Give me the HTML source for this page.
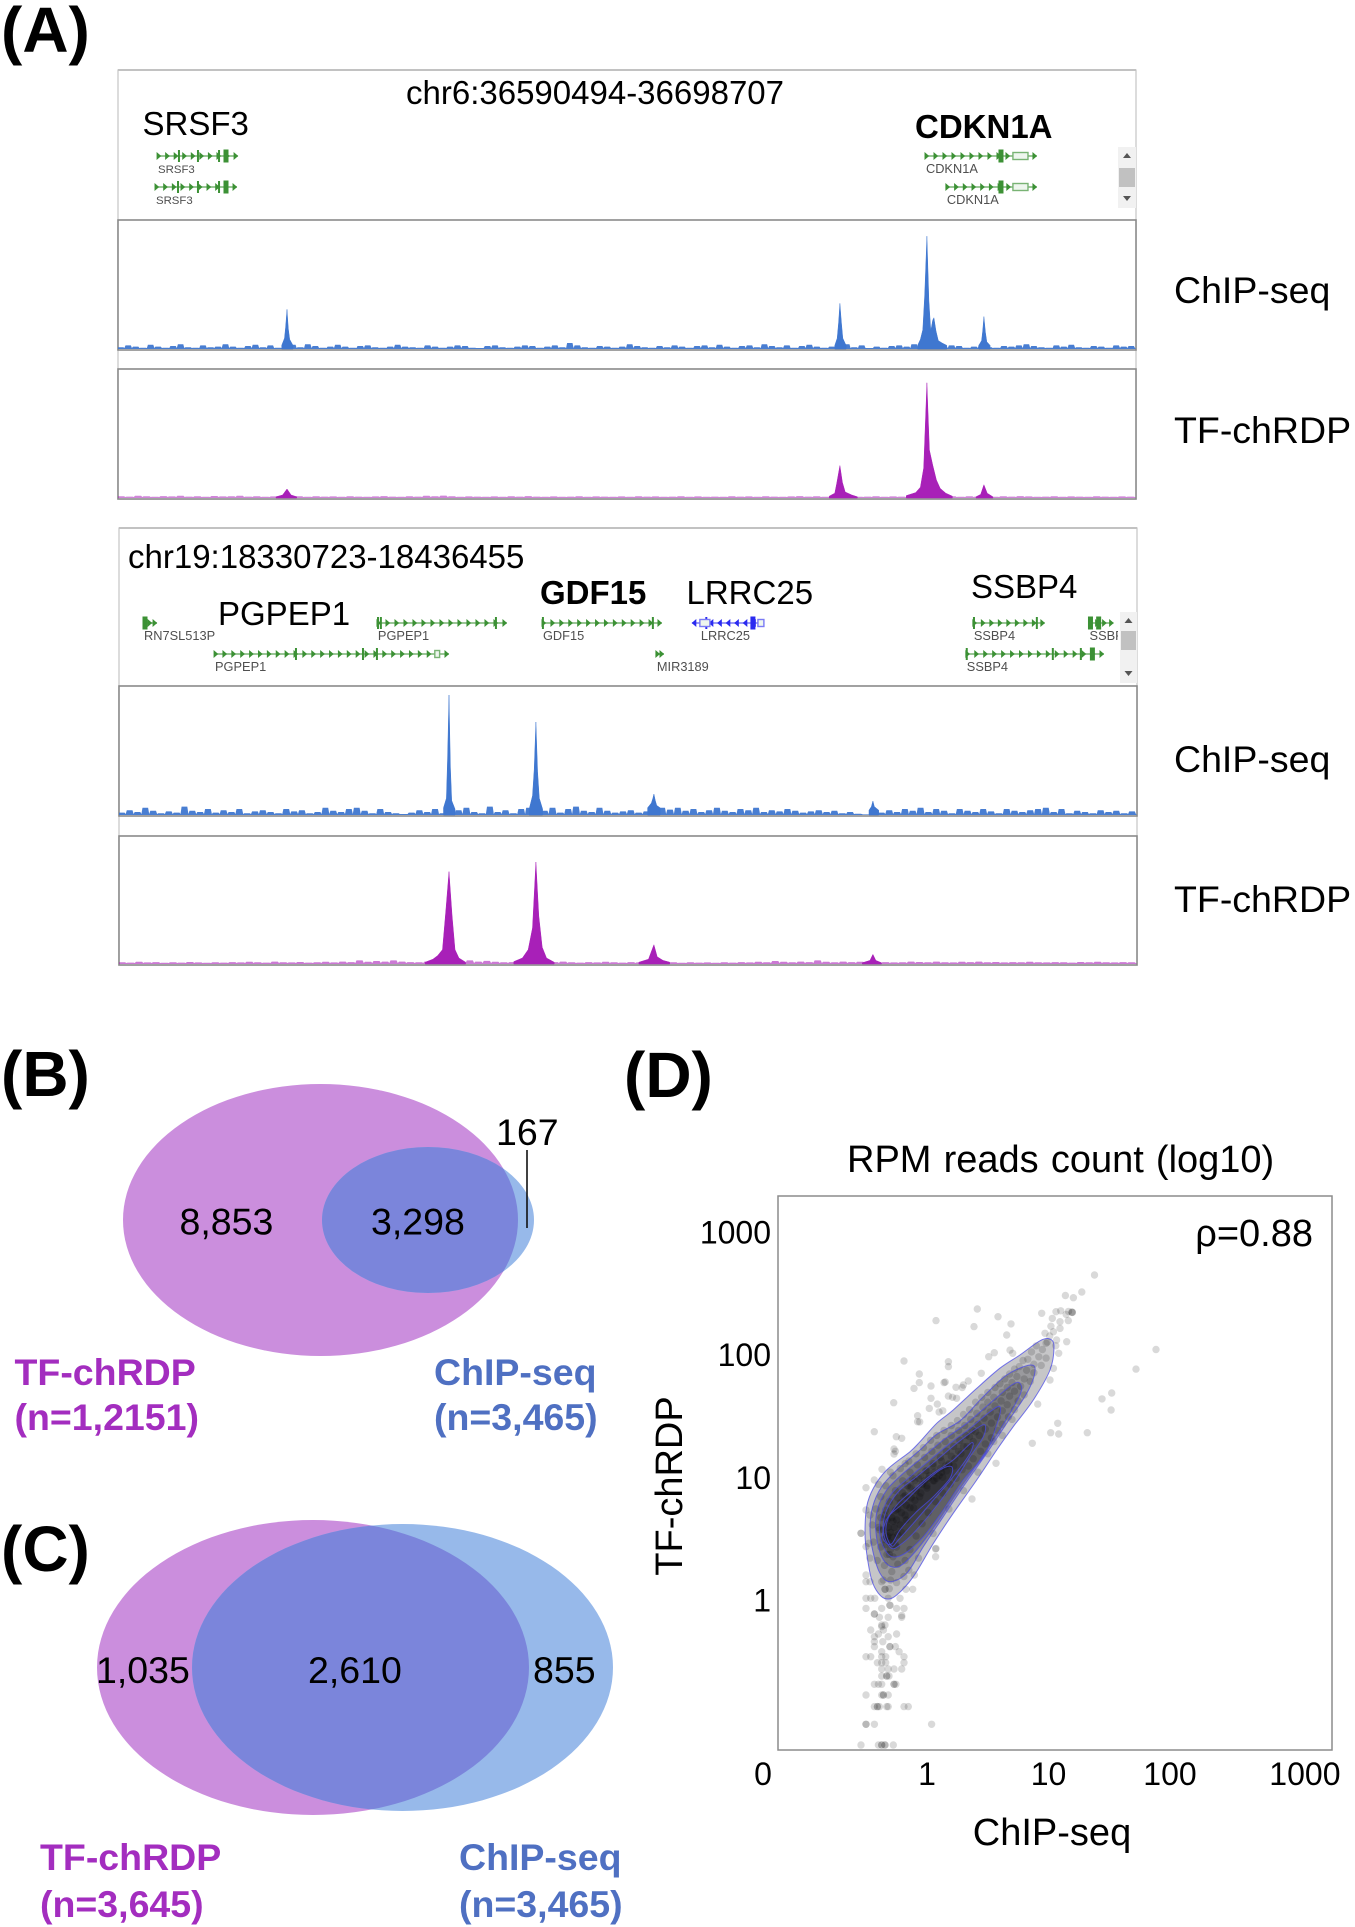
<!DOCTYPE html>
<html lang="en">
<head>
<meta charset="utf-8">
<title>TF-chRDP and ChIP-seq comparison</title>
<style>
html,body{margin:0;padding:0;background:#fff;}
svg{display:block;font-family:"Liberation Sans",Arial,sans-serif;}
.panel{font-weight:bold;font-size:64px;fill:#000;}
.big{font-size:33px;fill:#000;}
.track-label{font-size:37.5px;fill:#000;}
.venn-num{font-size:37.5px;fill:#000;}
.venn-lab{font-size:37.5px;font-weight:bold;}
.tick{font-size:32px;fill:#000;}
.axis-title{font-size:38px;fill:#000;}
</style>
</head>
<body>
<svg id="fig" xmlns="http://www.w3.org/2000/svg" width="1355" height="1927" viewBox="0 0 1355 1927">
<rect width="1355" height="1927" fill="#fff"/>
<defs>
<clipPath id="clipB"><ellipse cx="320.5" cy="1220" rx="197.5" ry="136"/></clipPath>
<clipPath id="clipC"><ellipse cx="313" cy="1667.5" rx="216" ry="147.5"/></clipPath>
<clipPath id="clipSsbp"><rect x="1000" y="620" width="118" height="30"/></clipPath>
</defs>

<!-- Panel letters -->
<text class="panel" x="1" y="52">(A)</text>
<text class="panel" x="1" y="1096">(B)</text>
<text class="panel" x="1" y="1571">(C)</text>
<text class="panel" x="624" y="1097">(D)</text>

<!-- Panel A frames -->
<g id="tracks"></g>

<!-- Panel A text -->
<text class="big" x="406" y="104" font-size="33.2">chr6:36590494-36698707</text>
<text class="big" x="142.5" y="135">SRSF3</text>
<text class="big" x="915" y="138" font-weight="bold">CDKN1A</text>
<text class="track-label" x="1174" y="303">ChIP-seq</text>
<text class="track-label" x="1174" y="443" font-size="38">TF-chRDP</text>
<text class="big" x="128" y="568">chr19:18330723-18436455</text>
<text class="big" x="218" y="625">PGPEP1</text>
<text class="big" x="540" y="604" font-weight="bold">GDF15</text>
<text class="big" x="686.5" y="604">LRRC25</text>
<text class="big" x="971" y="598">SSBP4</text>
<text class="track-label" x="1174" y="772">ChIP-seq</text>
<text class="track-label" x="1174" y="912" font-size="38">TF-chRDP</text>

<!-- Panel B -->
<g>
<ellipse cx="320.5" cy="1220" rx="197.5" ry="136" fill="#CB8EDD"/>
<ellipse cx="428" cy="1220" rx="106" ry="73" fill="#97B9EA"/>
<ellipse cx="428" cy="1220" rx="106" ry="73" fill="#7B85DB" clip-path="url(#clipB)"/>
<text class="venn-num" x="179.5" y="1234.5">8,853</text>
<text class="venn-num" x="371" y="1234.5">3,298</text>
<text class="venn-num" x="496" y="1145">167</text>
<line x1="527" y1="1150" x2="527" y2="1228" stroke="#111" stroke-width="1.6"/>
<text class="venn-lab" x="14.5" y="1385" fill="#A32DBF">TF-chRDP</text>
<text class="venn-lab" x="14.5" y="1430" fill="#A32DBF" font-size="37.8">(n=1,2151)</text>
<text class="venn-lab" x="434" y="1385" fill="#4F70C2">ChIP-seq</text>
<text class="venn-lab" x="434" y="1430" fill="#4F70C2">(n=3,465)</text>
</g>

<!-- Panel C -->
<g>
<ellipse cx="313" cy="1667.5" rx="216" ry="147.5" fill="#CB8EDD"/>
<ellipse cx="402.5" cy="1667.5" rx="210.5" ry="143.5" fill="#97B9EA"/>
<ellipse cx="402.5" cy="1667.5" rx="210.5" ry="143.5" fill="#7B85DB" clip-path="url(#clipC)"/>
<text class="venn-num" x="96" y="1683">1,035</text>
<text class="venn-num" x="308" y="1683">2,610</text>
<text class="venn-num" x="533" y="1683">855</text>
<text class="venn-lab" x="40" y="1870" fill="#A32DBF">TF-chRDP</text>
<text class="venn-lab" x="40" y="1917" fill="#A32DBF">(n=3,645)</text>
<text class="venn-lab" x="459" y="1870" fill="#4F70C2">ChIP-seq</text>
<text class="venn-lab" x="459" y="1917" fill="#4F70C2">(n=3,465)</text>
</g>

<!-- Panel D -->
<g id="scatter">
<text class="axis-title" x="847" y="1172" word-spacing="1.6">RPM reads count (log10)</text>
<g id="contours"></g>
<g id="points"></g>
<rect x="778" y="1196" width="554" height="554" fill="none" stroke="#8c8c8c" stroke-width="1.5"/>
<g id="ticks"></g>
<text class="axis-title" x="1313" y="1246" text-anchor="end" font-size="37">ρ=0.88</text>
<text class="axis-title" x="1052" y="1845" text-anchor="middle">ChIP-seq</text>
<text class="axis-title" x="0" y="0" text-anchor="middle" transform="translate(682 1486) rotate(-90)">TF-chRDP</text>
</g>
</svg>

<script>
/* ---------- Panel A data: signal values; positions are kb from locus start ---------- */
const chip6Noise = [1.5,3,2,1,3.5,2,1,2.5,4,1.5,1,3,1.5,2,4,2,1,2.5,3.5,1.5,3,1,2,3.5,1.5,4,2.5,1,2,3.5,
2,1,2.5,3,1.5,1,2,3.5,2,1.5,1,3,2,1,2,3,2.5,1,0.8,2.5,3,1.5,1,2,3,2.5,1,2,3,1.5,
5,3,1.5,1,2.5,2,1,2,4,2.5,1.5,1,2.5,1.5,3,2,1,2.5,3,1.5,3.5,2,1,2.5,3,1.5,4,2.5,1.5,3,
1,2.5,3.5,2,1,2,3,4,1.5,3,0.8,2,1,2.5,3,2,4,3,1.5,1,2,3,2.5,1,2,3.5,1.5,1,2.5,2,
3,4,2.5,1.5,1,3,2,3.5,1.5,1,2.5,2,1,3,2,2.5];
const chip6Peaks = [[17.4,3],[17.7,9],[17.82,18],[17.96,33],[18.1,17],[18.25,8],[18.6,3],
[76.2,3],[76.45,9],[76.6,22],[76.74,38],[76.9,22],[77.05,9],[77.4,3],
[85,3],[85.3,8],[85.55,16],[85.75,45],[85.99,94],[86.2,40],[86.4,15],[86.6,24],[86.73,26],[86.95,15],[87.2,7],[87.6,5],[88.1,3],
[91.5,3],[91.8,7],[91.92,15],[92.05,27],[92.2,14],[92.35,6],[92.7,3]];
const tf6Noise = [1.5,1.2,1.8,1.4,1.1,1.6,1.3,1.8,1.2,1.5,1.1,1.7,1.3,1.4,1.9,1.2,1.5,1.1,1.3,1.6,1.2,1.4,1,1.5,1.2,1.3,1.1,1.4,1.2,1.1,
1.3,1.6,1.2,1.1,1.4,1.2,1.8,1.5,2,1.4,1.1,1.3,1.2,1,1.3,1.1,1.4,1.2,1.6,1.2,1.1,1.3,1,1.2,1.4,1.1,1.3,1.2,1,1.3,
1.1,1.5,1.2,1.3,1,1.2,1.4,1.1,1.3,1,1.2,1.1,1.4,1.2,1.3,1,1.5,1.2,1.1,1.3,1.6,1.2,1.4,1.1,1.5,1.8,1.3,1.1,1.2,1.4,
1.1,1.3,1.2,1.5,1.1,1.3,1,1.2,1.4,1.1,1.5,1.2,1.3,1.1,1.4,1.2,1.6,1.3,1.1,1.2,1.5,1.1,1.3,1.2,1,1.4,1.2,1.1,1.3,1.2];
const tf6Peaks = [[16.8,1],[17.5,2.5],[17.96,7.5],[18.4,2.5],[19,1],
[75.6,1.5],[76.2,4],[76.4,12],[76.74,27],[77,13],[77.3,5],[78,2.5],[78.6,1],
[83.8,2],[84.8,4.5],[85.3,9],[85.65,25],[85.99,96],[86.25,40],[86.6,27.5],[87,15],[87.4,8],[88,4],[88.7,1.5],
[91.2,1],[91.7,3],[92.05,11],[92.4,4],[93,1]];
const chip19Noise = [2,4,2.5,6,3.5,1.5,3,2,7,3.5,2.5,5,2,4,2.5,5,1.5,3,4,2.5,1.5,5,3,4,1.5,2.5,6,3.5,2.5,5,
6,3.5,1.5,5,2.5,1.5,0.8,2,4,2.5,5,1.5,3,4,6,2.5,1.5,7,2.5,4,1.5,5,6,2.5,3.5,6,2,5,7,3.5,
2.5,6,3.5,2,3,4,2,3,4,6,4.5,6,3.5,5,2.5,4,6,3.5,2.5,5,4,6,2.5,4,3,5,3.5,2,3,4,
2.5,3.5,1.5,2.5,1,0.5,0.8,2,4,2.5,5,3.5,6,2.5,5,3.5,1.5,5,3.5,2.5,5,3,1.5,5,3.5,2.5,4,5,6,2.5,
5,1.5,3.5,2.5,1.5,4,2.5,3.5,1.5,3];
const chip19Peaks = [[33.7,6],[34,14],[34.12,45],[34.27,100],[34.42,40],[34.55,12],[34.9,5],
[42.6,5],[42.95,16],[43.12,38],[43.3,77.5],[43.48,36],[43.65,14],[44,5],
[54.9,6],[55.3,10],[55.45,14],[55.56,17.5],[55.7,12],[55.85,8],[56.2,6],
[77.9,4],[78.15,7],[78.3,11.7],[78.45,7],[78.9,4]];
const tf19Noise = [1.5,1.2,1.8,1.3,1.6,1.1,1.4,1.2,1.7,1.3,1.1,1.5,1.2,1.6,1.3,1.8,1.4,1.2,2,1.5,1.3,1.7,1.2,1.4,1.8,1.3,2,1.6,3,1.8,
2.5,2,3,2,1.6,1.4,2,1.6,1.3,2,1.7,3,2,2.6,1.8,1.4,1.6,1.3,1.8,1.5,2,1.6,2,1.4,1.2,1.6,1.3,1.8,1.5,1.2,
1.6,1.3,1.5,1.2,1.8,1.4,1.1,1.5,1.2,1.3,1,1.4,1.2,1.6,1.3,1.8,1.5,2.5,1.8,1.4,2,1.6,3,1.8,1.5,2,1.6,1.8,2,1.5,
1.6,1.3,1.5,2,1.7,1.4,2,1.5,1.3,1.8,1.6,2,1.4,1.7,1.3,1.6,1.4,1.8,1.5,1.3,1.6,1.4,1.2,1.7,1.4,1.9,1.5,1.3,1.6,1.4];
const tf19Peaks = [[31.8,1.5],[32.6,4],[33.1,7],[33.6,12],[33.95,45],[34.27,77],[34.6,40],[34.9,12],[35.3,5],[36,1.5],
[41,2],[41.9,5],[42.5,12],[42.95,30],[43.3,85],[43.6,40],[43.95,14],[44.4,5],[45.2,1.5],
[54,1.5],[55,4],[55.56,16],[55.9,6],[56.5,3],[57.2,1.5],
[77.2,1],[78,3],[78.3,8],[78.6,3],[79.2,1]];

/* Gene models: [label, row, startKb, endKb, strand, thin exons, thick exons, utr spans] */
const chr6Genes = [
 ["SRSF3",0,4.15,12.76,1,[6.48,8.5,10.74],[11.48],[]],
 ["SRSF3",1,3.93,12.65,1,[6.38,8.5,10.74],[11.48],[]],
 ["CDKN1A",0,85.78,97.68,1,[],[93.86],[[95.13,96.73]]],
 ["CDKN1A",1,88.0,97.68,1,[],[93.86],[[95.13,96.73]]]
];
const chr19Genes = [
 ["RN7SL513P",0,2.49,3.95,1,[],[2.7],[]],
 ["PGPEP1",0,26.79,40.29,1,[26.9,27.2,39.15],[],[]],
 ["PGPEP1",1,9.87,34.27,1,[18.38,25.34,26.79],[],[[32.8,33.3]]],
 ["GDF15",0,43.93,56.39,1,[44.03,55.45],[],[]],
 ["LRRC25",0,59.5,66.98,-1,[61],[65.84],[[60.33,61.37],[66.36,66.98]]],
 ["MIR3189",1,55.76,56.6,1,[],[],[]],
 ["SSBP4",0,88.68,96.16,1,[88.8,95.33],[],[]],
 ["SSBP",0,100.7,103.3,1,[],[100.9,101.75],[]],
 ["SSBP4",1,87.95,102.3,1,[88.05,96.99,99.9],[101.1],[]]
];

/* ---------- Panel D data: log10 RPM values ---------- */
const xTickLabels = ["0","1","10","100","1000"];
const xTickLogs = [-1.35,0,1,2,3.11];
const yTickLabels = ["1000","100","10","1"];
const yTickLogs = [3,2,1,0];

/* Density contours, outermost first: [ChIP-seq log10, TF-chRDP log10] */
const contourOuter = [[-0.332,0.016],[-0.4,0.063],[-0.455,0.171],[-0.496,0.389],[-0.51,0.552],[-0.496,0.769],[-0.442,0.918],[-0.332,1.068],[-0.14,1.217],[-0.058,1.298],[0.08,1.448],[0.216,1.557],[0.409,1.733],[0.6,1.897],[0.765,2.005],[0.93,2.121],[1.012,2.135],[1.045,2.073],[1.012,1.883],[0.875,1.638],[0.71,1.421],[0.574,1.231],[0.409,0.986],[0.216,0.715],[0.052,0.469],[-0.113,0.198],[-0.249,0.049]];
const contourSecond = [[-0.305,0.157],[-0.387,0.226],[-0.442,0.389],[-0.469,0.579],[-0.447,0.769],[-0.373,0.932],[-0.249,1.068],[-0.058,1.231],[0.08,1.359],[0.272,1.469],[0.463,1.665],[0.656,1.842],[0.848,1.923],[0.889,1.869],[0.821,1.693],[0.656,1.448],[0.491,1.204],[0.299,0.932],[0.134,0.687],[-0.03,0.443],[-0.167,0.226]];
const contourThird = [[-0.296,0.28],[-0.373,0.361],[-0.42,0.552],[-0.409,0.742],[-0.332,0.905],[-0.195,1.041],[-0.03,1.176],[0.134,1.312],[0.327,1.448],[0.519,1.612],[0.697,1.76],[0.765,1.774],[0.765,1.679],[0.6,1.393],[0.436,1.149],[0.244,0.878],[0.08,0.633],[-0.085,0.416],[-0.208,0.293]];
const contourFourth = [[-0.29,0.361],[-0.36,0.443],[-0.392,0.579],[-0.373,0.715],[-0.29,0.878],[-0.14,1.013],[0.025,1.149],[0.189,1.285],[0.354,1.407],[0.519,1.543],[0.6,1.584],[0.587,1.475],[0.477,1.196],[0.299,0.986],[0.134,0.742],[-0.03,0.524],[-0.181,0.389]];
const contourFifth = [[-0.29,0.429],[-0.346,0.511],[-0.36,0.633],[-0.319,0.769],[-0.222,0.905],[-0.085,1.013],[0.08,1.149],[0.244,1.285],[0.409,1.407],[0.477,1.434],[0.464,1.339],[0.354,1.176],[0.216,0.96],[0.052,0.742],[-0.113,0.552],[-0.222,0.456]];
const contourSixth = [[-0.29,0.448],[-0.337,0.552],[-0.319,0.674],[-0.236,0.796],[-0.113,0.905],[0.052,1.041],[0.216,1.149],[0.368,1.29],[0.354,1.204],[0.216,1.013],[0.052,0.823],[-0.113,0.633],[-0.236,0.497]];
const contourCore = [[-0.346,0.483],[-0.365,0.552],[-0.319,0.687],[-0.195,0.796],[-0.058,0.932],[0.107,1.068],[0.203,1.094],[0.189,1.0],[0.052,0.85],[-0.099,0.715],[-0.222,0.579],[-0.29,0.467]];

/* Scatter points: low tail */
const tailPoints = [[-0.543,-1.174],[-0.4,-1.174],[-0.373,-1.174],[-0.346,-1.174],[-0.277,-1.174],[-0.346,-1.174],[-0.373,-1.174],
[-0.502,-1.005],[-0.502,-1.005],[-0.433,-1.005],[0.038,-1.005],
[-0.433,-0.861],[-0.408,-0.861],[-0.392,-0.861],[-0.319,-0.861],[-0.332,-0.861],[-0.189,-0.861],[-0.154,-0.861],[-0.408,-0.861],
[-0.502,-0.766],[-0.373,-0.766],[-0.319,-0.766],[-0.359,-0.766],[-0.359,-0.766],
[-0.433,-0.679],[-0.4,-0.679],[-0.373,-0.679],[-0.272,-0.679],[-0.256,-0.679],[-0.272,-0.679],
[-0.373,-0.611],[-0.332,-0.611],[-0.313,-0.611],[-0.332,-0.611],
[-0.373,-0.554],[-0.319,-0.554],[-0.272,-0.554],[-0.208,-0.554],
[-0.408,-0.503],[-0.373,-0.503],[-0.34,-0.503],[-0.189,-0.503],
[-0.502,-0.454],[-0.463,-0.454],[-0.373,-0.454],[-0.34,-0.454],[-0.189,-0.454],
[-0.373,-0.413],[-0.23,-0.413],[-0.433,-0.372],[-0.305,-0.372],[-0.26,-0.372],[-0.305,-0.372],
[-0.433,-0.332],[-0.364,-0.332],[-0.433,-0.291],[-0.319,-0.291],[-0.4,-0.269],[-0.25,-0.269],[-0.463,-0.236],[-0.359,-0.236],
[-0.346,-0.196],[-0.373,-0.209],[-0.373,-0.196],[-0.392,-0.133],[-0.208,-0.133],[-0.319,-0.133],[-0.208,-0.118],
[-0.433,-0.106],[-0.433,-0.106],[-0.502,-0.06],[-0.373,-0.06],[-0.25,-0.06],[-0.189,-0.06],[-0.305,-0.035],[-0.305,-0.035],
[-0.502,0.022],[-0.463,0.022],[-0.43,0.022],[-0.319,0.022],[-0.222,0.022],[-0.346,0.095],[-0.346,0.095],[-0.174,0.095],[-0.118,0.095],
[-0.502,0.157],[-0.469,0.157],[-0.373,0.157],[-0.502,0.212],[-0.104,0.212],[0.071,0.361],[0.071,0.424],[-0.502,0.443],[-0.543,0.552],[-0.543,0.552],[-0.502,0.742]];
/* Scatter points: outliers above and below the contours */
const outlierPoints = [[0.074,2.285],[0.414,2.38],[0.387,2.236],[0.584,2.317],[0.691,2.258],[0.656,2.168],[-0.189,1.956],[0.176,1.95],[0.176,1.91],[-0.063,1.85],[-0.063,1.78],[-0.107,1.733],[0.033,1.752],[0.14,1.78],[0.15,1.785],[0.239,1.742],[0.299,1.76],[0.29,1.74],[0.34,1.793],[0.447,1.856],[0.508,1.991],[0.554,2.024],[0.683,2.045],[0.705,2.019],[-0.274,1.616],[0.033,1.652],[0.176,1.67],[0.244,1.652],[0.21,1.66],[0.085,1.605],[0.019,1.57],[0.1,1.54],[0.13,1.55],[-0.077,1.51],[-0.077,1.461],[-0.06,1.46],[-0.434,1.38],[-0.253,1.339],[-0.208,1.326],[-0.272,1.239],[-0.272,1.198],[-0.26,1.22],[-0.37,1.073],[-0.434,0.986],[-0.502,0.923],
[1.885,2.05],[1.72,1.89],[1.52,1.695],[1.44,1.647],[1.515,1.557],[1.076,1.448],[1.018,1.372],[1.084,1.361],[1.319,1.372],[0.867,1.285],[0.568,1.122],[0.37,0.831],[0.074,0.429],
[0.944,2.345],[1.062,2.358],[1.1,2.365],[1.146,2.336],[1.196,2.352],[1.196,2.352],[1.163,2.285],[1.095,2.276],[1.031,2.303],[1.095,2.222],[1.04,2.195],[0.971,2.182],[1.15,2.113],[1.067,2.127],[1.084,2.019],[1.04,1.896],[1.012,1.801],[0.911,1.605],
[1.379,2.657],[1.274,2.518],[1.205,2.472],[1.139,2.49],[1.193,2.355],[1.165,2.36],[1.02,2.24],[1.01,2.16],[1.06,2.08],[0.99,2.11]];
/* Scatter points: inside the contours */
const bandPoints = [[0.98,2.1],[0.95,2.05],[0.9,2.08],[0.86,2.03],[0.92,1.99],[0.98,1.98],[0.83,1.97],[0.88,1.93],[0.94,1.92],[0.79,1.96],[0.76,1.91],[0.82,1.88],[0.88,1.86],[0.72,1.89],[0.68,1.85],[0.74,1.83],[0.8,1.81],[0.85,1.79],[0.64,1.81],[0.7,1.78],[0.77,1.75],[0.6,1.77],[0.66,1.74],[0.72,1.71],[0.8,1.68],[0.56,1.74],[0.62,1.7],[0.68,1.67],[0.75,1.63],[0.5,1.7],[0.55,1.66],[0.61,1.63],[0.66,1.6],[0.72,1.56],[0.45,1.66],[0.5,1.62],[0.56,1.59],[0.62,1.55],[0.67,1.5],[0.4,1.62],[0.46,1.58],[0.52,1.54],[0.58,1.5],[0.62,1.44],[0.35,1.56],[0.41,1.53],[0.47,1.49],[0.53,1.45],[0.58,1.39],[0.3,1.52],[0.36,1.48],[0.42,1.44],[0.48,1.4],[0.53,1.33],[0.25,1.47],[0.31,1.43],[0.37,1.39],[0.43,1.35],[0.48,1.28],[0.2,1.43],[0.26,1.39],[0.32,1.35],[0.38,1.3],[0.44,1.22],[0.14,1.39],[0.2,1.35],[0.27,1.31],[0.33,1.26],[0.38,1.16],[0.08,1.35],[0.15,1.3],[0.22,1.26],[0.28,1.2],[0.34,1.1],
[0.03,1.31],[0.09,1.27],[0.16,1.22],[0.23,1.16],[0.29,1.07],[-0.03,1.25],[0.04,1.22],[0.11,1.17],[0.18,1.11],[0.24,1.0],[-0.09,1.2],[-0.02,1.17],[0.05,1.12],[0.12,1.05],[0.19,0.95],[-0.15,1.14],[-0.08,1.11],[-0.01,1.06],[0.06,0.98],[0.13,0.88],[-0.22,1.08],[-0.14,1.05],[-0.07,1.0],[0,0.92],[0.07,0.81],[-0.28,1.02],[-0.2,0.98],[-0.13,0.93],[-0.06,0.85],[0.01,0.72],[-0.34,0.94],[-0.26,0.9],[-0.19,0.85],[-0.11,0.76],[-0.04,0.63],[-0.38,0.85],[-0.31,0.81],[-0.24,0.75],[-0.17,0.66],[-0.09,0.53],[-0.42,0.75],[-0.35,0.7],[-0.28,0.65],[-0.21,0.56],[-0.14,0.42],[-0.45,0.62],[-0.39,0.58],[-0.32,0.53],[-0.25,0.44],[-0.18,0.33],[-0.44,0.48],[-0.38,0.44],[-0.31,0.38],[-0.24,0.3],[-0.19,0.2],[-0.41,0.33],[-0.35,0.29],[-0.29,0.24],[-0.25,0.15],[-0.36,0.17],[-0.31,0.1],[-0.3,0.17],[-0.47,0.7],[-0.48,0.47],[-0.47,0.35],[-0.4,0.95],[-0.3,1.05],[-0.18,1.12],[0.55,1.3],[0.62,1.35],[0.7,1.48],[0.5,1.2],[0.42,1.05],[0.3,0.9],[0.18,0.75],[0.05,0.55],[-0.07,0.35],[-0.15,0.25]];
/* Scatter points: darkest part of the cloud */
const corePoints = [[-0.36,0.5],[-0.34,0.46],[-0.33,0.52],[-0.31,0.48],[-0.3,0.56],[-0.36,0.58],[-0.32,0.6],[-0.28,0.52],[-0.27,0.6],[-0.33,0.66],[-0.29,0.68],[-0.25,0.66],[-0.3,0.42],[-0.26,0.46],[-0.24,0.54],[-0.22,0.62],[-0.26,0.74],[-0.21,0.72],[-0.18,0.7],[-0.22,0.8],[-0.17,0.78],[-0.14,0.76],[-0.18,0.86],[-0.13,0.84],[-0.1,0.82],[-0.14,0.92],[-0.09,0.9],[-0.05,0.88],[-0.1,0.98],[-0.04,0.95],[0,0.94],[-0.05,1.02],[0.01,1],[0.05,0.98],[0,1.06],[0.06,1.05],[0.1,1.02],[0.05,1.1],[0.11,1.08],[0.16,1.06],[0.12,1.14],[0.18,1.12],[0.22,1.1],[0.02,1.02],[0.08,1],[-0.02,0.98],[0.13,1.01],[0.15,1.1],[0.2,1.18],[0.26,1.22],[0.3,1.26],[0.35,1.34],[0.4,1.38],[-0.2,0.88],[-0.16,0.94],[-0.12,1.0],[-0.24,0.84],[-0.34,0.74],[-0.38,0.68],[-0.4,0.6],[-0.28,0.36],[-0.33,0.38]];

/* ---------- scales ---------- */
const NS = "http://www.w3.org/2000/svg";
const fig = document.getElementById("fig");
const tracksG = document.getElementById("tracks");
const TRACK_LEFT6 = 118, TRACK_LEFT19 = 119, TRACK_W = 1018;
const SPAN6 = 108.213, SPAN19 = 105.732;
function kbX(kb, left, span){ return left + kb / span * TRACK_W; }
function sigY(v, base){ return base - v * 1.2; }
function logX(v){ return 927 + 121.5 * v; }
function logY(v){ return 1601 - 122.7 * v; }

function make(tag, parent, attrs){
  const el = document.createElementNS(NS, tag);
  for (const k in attrs) el.setAttribute(k, attrs[k]);
  parent.appendChild(el);
  return el;
}

/* ---------- frames ---------- */
function drawFrame(left, top, geneBottom, chipBottom, tfTop, tfBottom, key){
  const sideLight = make("rect", tracksG, {x:left, y:top, width:TRACK_W, height:tfBottom-top, fill:"#fff", stroke:"#c4c4c4", "stroke-width":1.2});
  
  
  const topBar = make("rect", tracksG, {x:left, y:top-1, width:TRACK_W, height:2, fill:"#c2c2c2"});
  
  
  const chipBox = make("rect", tracksG, {x:left, y:geneBottom, width:TRACK_W, height:chipBottom-geneBottom, fill:"#fff", stroke:"#8a8a8a", "stroke-width":1.6});
  
  
  const tfBox = make("rect", tracksG, {x:left, y:tfTop, width:TRACK_W, height:tfBottom-tfTop, fill:"#fff", stroke:"#8a8a8a", "stroke-width":1.6});
  
  
}
drawFrame(TRACK_LEFT6, 70, 220, 350, 369, 499, "chr6");
drawFrame(TRACK_LEFT19, 528, 686, 816, 836, 965, "chr19");

/* ---------- signal tracks ---------- */
function drawSignal(noise, peaks, left, span, base, colour, noiseOpacity, name){
  /* background as a stepped histogram */
  const binW = span / noise.length;
  let nd = "M" + left + " " + base;
  noise.forEach(function(v, i){
    nd += "L" + kbX(i * binW, left, span).toFixed(1) + " " + sigY(v, base).toFixed(1);
    nd += "L" + kbX((i + 0.72) * binW, left, span).toFixed(1) + " " + sigY(v, base).toFixed(1);
    nd += "L" + kbX((i + 0.86) * binW, left, span).toFixed(1) + " " + sigY(Math.min(v, 0.8), base).toFixed(1);
  });
  nd += "L" + (left + TRACK_W) + " " + base + "Z";
  const bg = make("path", tracksG, {d:nd, fill:colour, "fill-opacity":noiseOpacity});
  
  
  /* peaks drawn solid, one area per group of points */
  const groups = [];
  peaks.forEach(function(p, i){
    if (i === 0 || p[0] - peaks[i-1][0] > 2) groups.push([p]);
    else groups[groups.length-1].push(p);
  });
  groups.forEach(function(g){
    let d = "M" + kbX(g[0][0], left, span).toFixed(1) + " " + base;
    g.forEach(function(p){ d += "L" + kbX(p[0], left, span).toFixed(1) + " " + sigY(p[1], base).toFixed(1); });
    d += "L" + kbX(g[g.length-1][0], left, span).toFixed(1) + " " + base + "Z";
    const area = make("path", tracksG, {d:d, fill:colour, stroke:colour, "stroke-width":0.5, "stroke-linejoin":"round"});
    
    
  });
}
drawSignal(chip6Noise, chip6Peaks, TRACK_LEFT6, SPAN6, 349, "#3F77D0", 0.95, "chr6-chip-seq-signal");
drawSignal(tf6Noise, tf6Peaks, TRACK_LEFT6, SPAN6, 498, "#A820B8", 0.55, "chr6-tf-chrdp-signal");
drawSignal(chip19Noise, chip19Peaks, TRACK_LEFT19, SPAN19, 815, "#3F77D0", 0.95, "chr19-chip-seq-signal");
drawSignal(tf19Noise, tf19Peaks, TRACK_LEFT19, SPAN19, 964, "#A820B8", 0.6, "chr19-tf-chrdp-signal");

/* ---------- gene models ---------- */
function drawGene(g, left, span, rows, key){
  const label = g[0], y = rows[g[1]], strand = g[4];
  const x1 = kbX(g[2], left, span), x2 = kbX(g[3], left, span);
  const blue = label === "LRRC25";
  const dark = blue ? "#2a2af0" : "#3c9135", light = blue ? "#7a7af5" : "#79b374";
  const grp = make("g", tracksG, {});
  
  
  const line = make("line", grp, {x1:x1, x2:x2, y1:y, y2:y, stroke:light, "stroke-width":1.6});
  
  
  const n = Math.max(1, Math.round((x2 - x1) / 9));
  for (let i = 0; i <= n; i++){
    const cx = x1 + (x2 - x1 - 4) * i / n + (strand > 0 ? 0 : 4);
    const tip = cx + 3.5 * strand;
    const arrow = make("path", grp, {d:"M"+cx+" "+(y-3)+"L"+tip+" "+y+"L"+cx+" "+(y+3)+"Z", fill:dark, stroke:dark, "stroke-width":0.9});
    
    
  }
  g[5].forEach(function(e){
    const ex = make("rect", grp, {x:kbX(e, left, span)-1, y:y-6, width:2, height:12, fill:dark});
    
    
  });
  g[6].forEach(function(e){
    const ex = make("rect", grp, {x:kbX(e, left, span)-2.5, y:y-6.5, width:5, height:13, fill:dark});
    
    
  });
  g[7].forEach(function(u){
    const ux = make("rect", grp, {x:kbX(u[0], left, span), y:y-3.5, width:kbX(u[1], left, span)-kbX(u[0], left, span), height:7, fill:"#eef6ee", stroke:light, "stroke-width":1.4});
    
    
  });
  const t = make("text", grp, {x:(blue ? x1 + 9 : x1 + 1), y:y+17, "font-size":(label === "SRSF3" ? 11.4 : 12.8), fill:"#4f4f4f"});
  if (label === "SSBP") t.setAttribute("clip-path", "url(#clipSsbp)");
  t.textContent = label;
  
  
}
chr6Genes.forEach(function(g){ drawGene(g, TRACK_LEFT6, SPAN6, [156,187], "chr6"); });
chr19Genes.forEach(function(g){ drawGene(g, TRACK_LEFT19, SPAN19, [623,654], "chr19"); });

/* ---------- scrollbars ---------- */
function drawScroll(x, top, h, thumbTop, thumbH, w, key){
  const grp = make("g", tracksG, {});
  
  
  const bg = make("rect", grp, {x:x, y:top, width:w, height:h, fill:"#f1f1f1"});
  
  
  const th = make("rect", grp, {x:x+1, y:thumbTop, width:w-2, height:thumbH, fill:"#c1c1c1"});
  
  
  const cx = x + w/2;
  const up = make("path", grp, {d:"M"+(cx-4)+" "+(top+11)+"L"+cx+" "+(top+6)+"L"+(cx+4)+" "+(top+11)+"Z", fill:"#555"});
  
  
  const dn = make("path", grp, {d:"M"+(cx-4)+" "+(top+h-12)+"L"+cx+" "+(top+h-7)+"L"+(cx+4)+" "+(top+h-12)+"Z", fill:"#555"});
  
  
}
drawScroll(1118, 147, 61, 168, 19, 18, "chr6");
drawScroll(1120, 612, 71, 631, 19, 17, "chr19");

/* ---------- scatter ---------- */
function smoothClosed(pts){
  const P = pts.map(function(p){ return [logX(p[0]), logY(p[1])]; });
  const n = P.length;
  let d = "M" + P[0][0].toFixed(1) + " " + P[0][1].toFixed(1);
  for (let i = 0; i < n; i++){
    const p0 = P[(i-1+n)%n], p1 = P[i], p2 = P[(i+1)%n], p3 = P[(i+2)%n];
    const c1x = p1[0] + (p2[0]-p0[0])/6, c1y = p1[1] + (p2[1]-p0[1])/6;
    const c2x = p2[0] - (p3[0]-p1[0])/6, c2y = p2[1] - (p3[1]-p1[1])/6;
    d += "C" + c1x.toFixed(1) + " " + c1y.toFixed(1) + " " + c2x.toFixed(1) + " " + c2y.toFixed(1) + " " + p2[0].toFixed(1) + " " + p2[1].toFixed(1);
  }
  return d + "Z";
}
const contourG = document.getElementById("contours");
const pointG = document.getElementById("points");
[contourOuter, contourSecond, contourThird, contourFourth, contourFifth, contourSixth, contourCore].forEach(function(c){
  const p = make("path", contourG, {d:smoothClosed(c), fill:"rgba(18,18,26,0.24)", stroke:"none"});
  
  
});
tailPoints.concat(outlierPoints, bandPoints, corePoints).forEach(function(p){
  const c = make("circle", pointG, {cx:logX(p[0]).toFixed(1), cy:logY(p[1]).toFixed(1), r:3.7, fill:"#000", "fill-opacity":0.15});
  
  
});
[contourOuter, contourSecond, contourThird, contourFourth, contourFifth, contourSixth, contourCore].forEach(function(c){
  const p = make("path", pointG, {d:smoothClosed(c), fill:"none", stroke:"#4a4ae8", "stroke-width":1, "stroke-opacity":0.75});
  
  
});
const tickG = document.getElementById("ticks");
xTickLabels.forEach(function(lab, i){
  const t = make("text", tickG, {"class":"tick", x:logX(xTickLogs[i]).toFixed(1), y:1785, "text-anchor":"middle"});
  t.textContent = lab;
  
  
});
yTickLabels.forEach(function(lab, i){
  const t = make("text", tickG, {"class":"tick", x:771, y:(logY(yTickLogs[i]) + 10.5).toFixed(1), "text-anchor":"end"});
  t.textContent = lab;
  
  
});
</script>
</body>
</html>
